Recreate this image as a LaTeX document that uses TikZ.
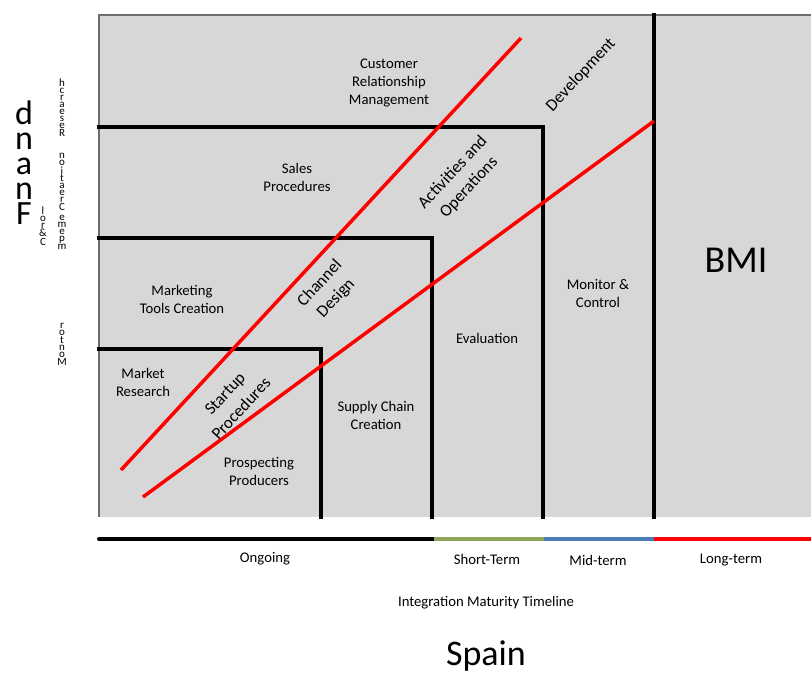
\documentclass[tikz,border=0pt]{standalone}
\usepackage{fontspec}
\setmainfont{Carlito}
\definecolor{panelgray}{RGB}{215,215,215}
\definecolor{edgegray}{RGB}{110,110,110}
\definecolor{termgreen}{RGB}{143,166,90}
\definecolor{termblue}{RGB}{74,126,187}
\tikzset{
  lbl/.style={align=center, inner sep=0pt, font=\fontsize{14.7}{18}\selectfont},
  slant/.style={align=center, inner sep=0pt, rotate=47, font=\fontsize{17}{22}\selectfont},
  stair/.style={line width=3.5pt, line cap=rect},
  path/.style={red, line width=3.5pt},
  tl/.style={line width=4pt},
  stackbig/.style={align=center, inner sep=0pt, font=\fontsize{34}{25}\selectfont},
  stacksmall/.style={align=center, inner sep=0pt, font=\fontsize{11}{7}\selectfont},
}
\begin{document}
\begin{tikzpicture}[x=1pt,y=-1pt]
\useasboundingbox (0,0) rectangle (811,673);
\fill[white] (0,0) rectangle (811,673);

% chart panel
\fill[panelgray] (99,15) rectangle (811,517);
\draw[edgegray, line width=1.5pt] (99,517) -- (99,15) -- (811,15);

% stair-step boundaries between the stages
\coordinate (s1a) at (99,349);  \coordinate (s1b) at (321,349);  \coordinate (s1c) at (321,517);
\coordinate (s2a) at (99,238);  \coordinate (s2b) at (432,238);  \coordinate (s2c) at (432,517);
\coordinate (s3a) at (99,127);  \coordinate (s3b) at (543,127);  \coordinate (s3c) at (543,517);
\coordinate (s4a) at (654,15);  \coordinate (s4b) at (654,517);
\draw[stair] (s1a) -- (s1b) -- (s1c);
\draw[stair] (s2a) -- (s2b) -- (s2c);
\draw[stair] (s3a) -- (s3b) -- (s3c);
\draw[stair] (s4a) -- (s4b);

% development corridor
\coordinate (r1a) at (121,470); \coordinate (r1b) at (521,38);
\coordinate (r2a) at (143,497); \coordinate (r2b) at (654,121);
\draw[path] (r1a) -- (r1b);
\draw[path] (r2a) -- (r2b);

% stage labels
\node[lbl] (crm) at (389,83) {Customer\\Relationship\\Management};
\node[lbl] (sales) at (297,177) {Sales\\Procedures};
\node[lbl] (mtc) at (182,299) {Marketing\\Tools Creation};
\node[lbl] (mr) at (143,382) {Market\\Research};
\node[lbl] (pp) at (259,471) {Prospecting\\Producers};
\node[lbl] (scc) at (376,415) {Supply Chain\\Creation};
\node[lbl] (eval) at (487,338) {Evaluation};
\node[lbl] (mc) at (598,293) {Monitor \&\\Control};
\node[inner sep=0pt, font=\fontsize{38}{40}\selectfont] (bmi) at (736,260) {BMI};

% labels along the corridor
\node[slant] (sp) at (233,401) {Startup\\Procedures};
\node[slant] (cd) at (328,291) {Channel\\Design};
\node[slant] (ao) at (461,180) {Activities and\\Operations};
\node[slant] (dev) at (581,75) {Development};

% stacked axis letters
\node[stackbig] (ax) at (24,163) {d\\n\\a\\n\\F};
\node[stacksmall] (ax1) at (62,108) {h\\c\\r\\a\\e\\s\\e\\R};
\node[stacksmall] (ax2) at (62,182) {n\\o\\i\\t\\a\\e\\r\\C};
\node[stacksmall] (ax4) at (62,232) {e\\m\\e\\p\\m};
\node[stacksmall] (ax5) at (43,226) {l\\o\\r\\\&\\C};
\node[stacksmall] (ax6) at (62,344) {r\\o\\t\\n\\o\\M};

% timeline
\coordinate (t0) at (99,539);
\coordinate (t1) at (434,539);
\coordinate (t2) at (544,539);
\coordinate (t3) at (654,539);
\coordinate (t4) at (811,539);
\draw[tl, line cap=round] (t0) -- (t1);
\draw[tl, termgreen] (t1) -- (t2);
\draw[tl, termblue] (t2) -- (t3);
\draw[tl, red] (t3) -- (t4);
\node[lbl] (ong) at (265,559) {Ongoing};
\node[lbl] (st) at (487,559) {Short-Term};
\node[lbl] (mt) at (598,560) {Mid-term};
\node[lbl] (lt) at (731,560) {Long-term};
\node[lbl] (imt) at (486,603) {Integration Maturity Timeline};
\node[inner sep=0pt, font=\fontsize{36}{40}\selectfont] (spain) at (486,656) {Spain};
\end{tikzpicture}
\end{document}
